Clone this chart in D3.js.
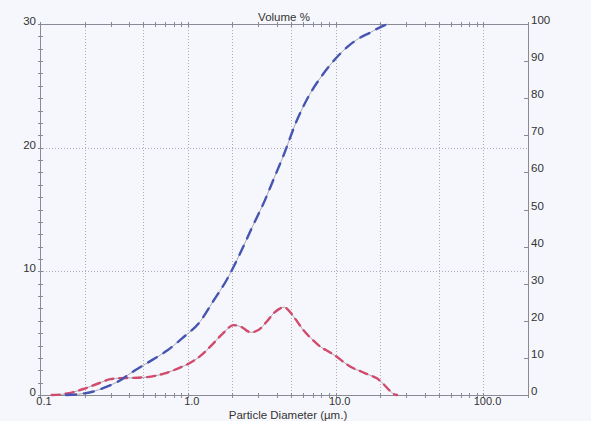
<!DOCTYPE html>
<html>
<head>
<meta charset="utf-8">
<script src="https://cdn.jsdelivr.net/npm/d3@7"></script>
<style>
  body { margin: 0; background: #f6f7fc; }
  svg { display: block; font-family: "Liberation Sans", Arial, sans-serif; }
  .grid { stroke: #9a9aa6; stroke-width: 0.8; stroke-dasharray: 1,2; fill: none; }
  .ax { stroke: #8a8a96; stroke-width: 1; fill: none; shape-rendering: crispEdges; }
  .lbl { fill: #333; font-size: 11.5px; }
</style>
</head>
<body>
<svg id="chart" width="591" height="421"></svg>
<script>
// frequency curve (left axis, volume %)
var freqSize = [0.12, 0.14, 0.17, 0.2, 0.25, 0.3, 0.35, 0.4, 0.5, 0.6, 0.7, 0.8, 0.9, 1.0, 1.2, 1.49, 1.75, 2.03, 2.3, 2.66, 3.0, 3.4, 3.8, 4.3, 4.5, 4.8, 5.3, 6.0, 7.0, 8.0, 9.0, 10, 11.5, 13, 15, 17, 19, 21, 23, 25, 26];
var freqVol  = [0, 0.05, 0.25, 0.52, 0.95, 1.28, 1.36, 1.38, 1.42, 1.55, 1.75, 2.0, 2.25, 2.5, 3.1, 4.18, 5.05, 5.65, 5.5, 5.07, 5.25, 5.9, 6.6, 7.05, 7.1, 6.85, 6.2, 5.3, 4.45, 3.85, 3.5, 3.15, 2.6, 2.2, 1.88, 1.6, 1.35, 0.9, 0.4, 0.05, 0];

// cumulative curve (right axis, %)
var cumSize = [0.15, 0.18, 0.2, 0.23, 0.27, 0.31, 0.35, 0.4, 0.5, 0.6, 0.72, 0.91, 1.21, 1.48, 1.83, 2.26, 2.7, 3.33, 3.79, 4.43, 5.46, 6.71, 8.05, 9.9, 11.9, 14.6, 17, 19, 21, 22.5];
var cumVol  = [0, 0.2, 0.45, 0.95, 1.9, 2.9, 4.0, 5.6, 8.0, 9.9, 11.9, 15.2, 19.8, 25.2, 31.0, 38.2, 44.9, 52.6, 58.0, 64.5, 74.0, 81.2, 86.0, 90.5, 93.7, 96.3, 97.6, 98.7, 99.5, 100];

var xMajor = [0.1, 1, 10, 100];
var xMajorLabels = ["0.1", "1.0", "10.0", "100.0"];
var xGrid = [0.2, 0.5, 1, 2, 5, 10, 20, 50, 100];
var leftTicks = [0, 10, 20, 30];
var rightTicks = [0, 10, 20, 30, 40, 50, 60, 70, 80, 90, 100];

var L = 40, R = 528, T = 24, B = 395;
var svg = d3.select("#chart");

var x = d3.scaleLog().domain([0.1, 200]).range([L, R]);
var yL = d3.scaleLinear().domain([0, 30]).range([B, T]);
var yR = d3.scaleLinear().domain([0, 100]).range([B, T]);

// minor ticks for every 1..9 x decade
var xMinor = [];
[0.1, 1, 10, 100].forEach(function(dec){
	for (var k = 1; k <= 9; k++) {
		var v = dec * k;
		if (v <= 200) xMinor.push(v);
	}
});
xMinor.push(200);

// gridlines
svg.selectAll(".vgrid").data(xGrid).enter().append("line")
	.attr("class", "grid")
	.attr("x1", function(d){ return Math.round(x(d)) + 0.5; })
	.attr("x2", function(d){ return Math.round(x(d)) + 0.5; })
	.attr("y1", T).attr("y2", B);
svg.selectAll(".hgrid").data([10, 20]).enter().append("line")
	.attr("class", "grid")
	.attr("x1", L).attr("x2", R)
	.attr("y1", function(d){ return Math.round(yL(d)) + 0.5; })
	.attr("y2", function(d){ return Math.round(yL(d)) + 0.5; });

// frame
svg.append("rect").attr("class", "ax")
	.attr("x", L + 0.5).attr("y", T + 0.5)
	.attr("width", R - L).attr("height", B - T);

// x ticks top and bottom
[T, B].forEach(function(yy){
	svg.append("g").selectAll("line").data(xMinor).enter().append("line")
		.attr("class", "ax")
		.attr("x1", function(d){ return Math.round(x(d)) + 0.5; })
		.attr("x2", function(d){ return Math.round(x(d)) + 0.5; })
		.attr("y1", yy - 2).attr("y2", yy + 3);
});

// left minor ticks every unit
svg.append("g").selectAll("line").data(d3.range(0, 31)).enter().append("line")
	.attr("class", "ax")
	.attr("x1", L - 2).attr("x2", L + 3)
	.attr("y1", function(d){ return Math.round(yL(d)) + 0.5; })
	.attr("y2", function(d){ return Math.round(yL(d)) + 0.5; });

// right ticks
svg.append("g").selectAll("line").data(rightTicks).enter().append("line")
	.attr("class", "ax")
	.attr("x1", R - 4).attr("x2", R)
	.attr("y1", function(d){ return Math.round(yR(d)) + 0.5; })
	.attr("y2", function(d){ return Math.round(yR(d)) + 0.5; });

// labels
svg.append("g").selectAll("text").data(leftTicks).enter().append("text")
	.attr("class", "lbl")
	.attr("x", L - 4)
	.attr("y", function(d){ return yL(d) + 1; })
	.attr("text-anchor", "end")
	.text(function(d){ return d; });

svg.append("g").selectAll("text").data(rightTicks).enter().append("text")
	.attr("class", "lbl")
	.attr("x", R + 3)
	.attr("y", function(d){ return yR(d); })
	.text(function(d){ return d; });

svg.append("g").selectAll("text").data(xMajor).enter().append("text")
	.attr("class", "lbl")
	.style("font-size", "11px")
	.attr("x", function(d){ return x(d) + 4; })
	.attr("y", B + 10)
	.attr("text-anchor", "middle")
	.text(function(d, i){ return xMajorLabels[i]; });

svg.append("text").attr("class", "lbl")
	.attr("x", (L + R) / 2).attr("y", 21)
	.attr("text-anchor", "middle")
	.text("Volume %");

svg.append("text").attr("class", "lbl")
	.style("font-size", "11.5px")
	.attr("x", 288).attr("y", 419)
	.attr("text-anchor", "middle")
	.text("Particle Diameter (\u00b5m.)");

// curves: thin grey line with thick colored dashes on top
function drawCurve(sizes, vols, yScale, color, dash){
	var pts = sizes.map(function(s, i){ return [s, vols[i]]; });
	var line = d3.line()
		.x(function(d){ return x(d[0]); })
		.y(function(d){ return yScale(d[1]); })
		.curve(d3.curveMonotoneX);
	svg.append("path")
		.attr("d", line(pts))
		.attr("fill", "none")
		.attr("stroke", "#a8a8b0")
		.attr("stroke-width", 1);
	svg.append("path")
		.attr("d", line(pts))
		.attr("fill", "none")
		.attr("stroke", color)
		.attr("stroke-width", 2.4)
		.attr("stroke-dasharray", dash)
		.attr("stroke-linecap", "round");
}

drawCurve(freqSize, freqVol, yL, "#d24a6c", "8,6");
drawCurve(cumSize, cumVol, yR, "#4655b2", "10,8");
</script>
</body>
</html>
